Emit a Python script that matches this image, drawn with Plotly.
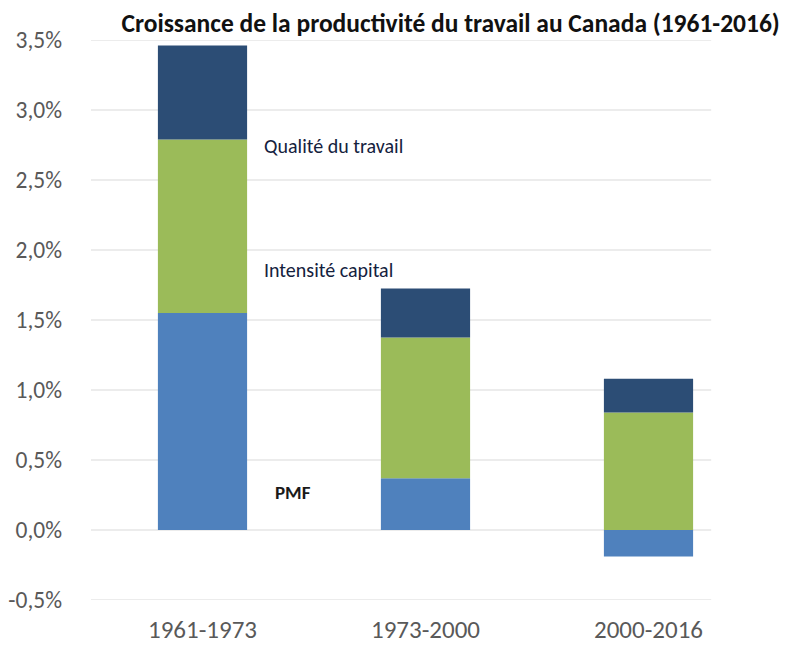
import plotly.graph_objects as go

periods = ["1961-1973", "1973-2000", "2000-2016"]
pmf = [1.55, 0.37, -0.19]
intensite_capital = [1.24, 1.005, 0.84]
qualite_travail = [0.67, 0.35, 0.24]

y_ticks = [-0.5, 0.0, 0.5, 1.0, 1.5, 2.0, 2.5, 3.0, 3.5]
y_ticktext = ["-0,5%", "0,0%", "0,5%", "1,0%", "1,5%", "2,0%", "2,5%", "3,0%", "3,5%"]

FONT = "Carlito, Lato, sans-serif"

fig = go.Figure()
fig.add_trace(go.Bar(x=periods, y=pmf, name="PMF", marker_color="#4F81BD", width=0.4,
                     marker_line_width=0))
fig.add_trace(go.Bar(x=periods, y=intensite_capital, name="Intensité capital",
                     marker_color="#9BBB59", width=0.4, marker_line_width=0))
fig.add_trace(go.Bar(x=periods, y=qualite_travail, name="Qualité du travail",
                     marker_color="#2C4D75", width=0.4, marker_line_width=0))

# gridlines (end before right edge as in reference)
for v in y_ticks:
    fig.add_shape(type="line", xref="paper", yref="y", x0=0, x1=0.927, y0=v, y1=v,
                  line=dict(color="#E6E6E6", width=1.5), layer="below")

fig.add_annotation(x=0.267, y=2.74, xref="x", yref="y", text="Qualité du travail",
                   showarrow=False, xanchor="left", yanchor="middle",
                   font=dict(family=FONT, size=20, color="#14213D"))
fig.add_annotation(x=0.267, y=1.86, xref="x", yref="y", text="Intensité capital",
                   showarrow=False, xanchor="left", yanchor="middle",
                   font=dict(family=FONT, size=20, color="#14213D"))
fig.add_annotation(x=0.316, y=0.265, xref="x", yref="y", text="<b>PMF</b>",
                   showarrow=False, xanchor="left", yanchor="middle",
                   font=dict(family=FONT, size=19, color="#1A1A1A"))

fig.update_layout(
    barmode="relative",
    width=799, height=647,
    margin=dict(l=83, r=47, t=32, b=55, autoexpand=False),
    paper_bgcolor="white", plot_bgcolor="white",
    showlegend=False,
    title=dict(text="<b>Croissance de la productivité du travail au Canada (1961-2016)</b>",
               x=0.966, xanchor="right", y=0.977, yanchor="middle",
               font=dict(family=FONT, size=25.5, color="#111111")),
    font=dict(family=FONT),
)
fig.update_xaxes(range=[-0.5, 2.5], showgrid=False, showline=False, zeroline=False,
                 tickfont=dict(family=FONT, size=25, color="#595959"), ticks="",
                 ticklabelstandoff=12, automargin=False)
fig.update_yaxes(range=[-0.5, 3.5], tickvals=y_ticks, ticktext=y_ticktext,
                 showgrid=False, zeroline=False, showline=False,
                 tickfont=dict(family=FONT, size=23.5, color="#595959"), ticks="",
                 ticklabelstandoff=28, automargin=False)

fig.write_html("out.html")
